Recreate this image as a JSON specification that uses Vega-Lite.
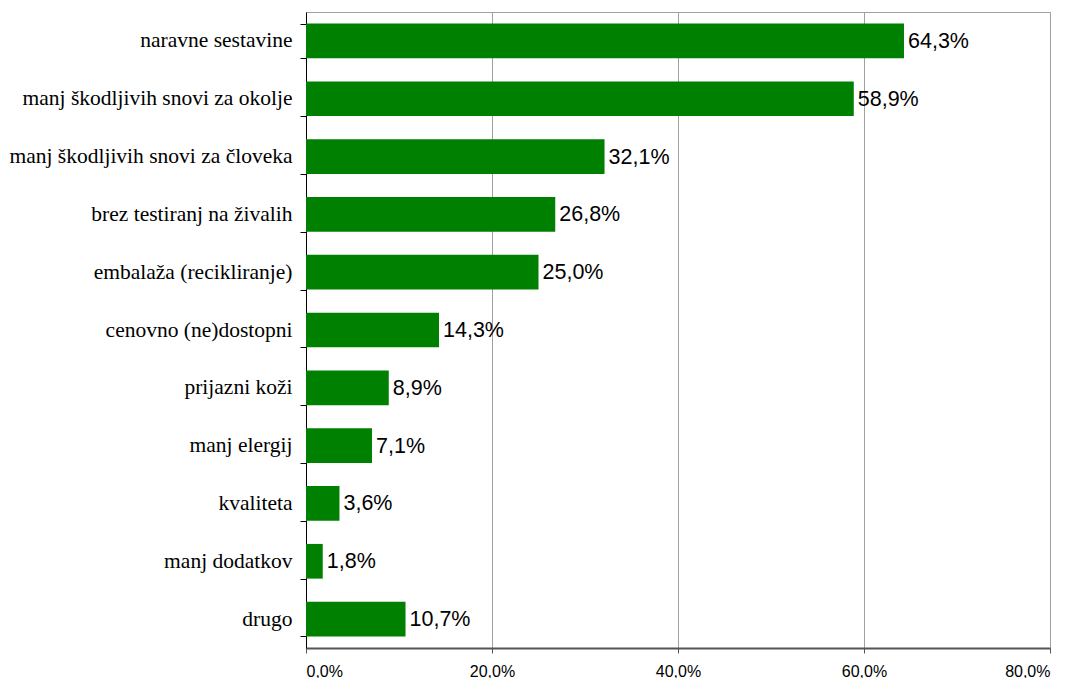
{
  "$schema": "https://vega.github.io/schema/vega-lite/v6.json",
  "width": 744,
  "height": 636,
  "autosize": {"type": "none"},
  "padding": {"left": 306, "top": 12, "right": 27, "bottom": 30},
  "background": "white",
  "config": {
    "locale": {"number": {"decimal": ",", "thousands": ".", "grouping": [3], "currency": ["", " €"]}},
    "view": {"stroke": "#a0a0a0", "strokeWidth": 1}
  },
  "data": {"values": [
    {"cat": "naravne sestavine", "v": 0.643},
    {"cat": "manj škodljivih snovi za okolje", "v": 0.589},
    {"cat": "manj škodljivih snovi za človeka", "v": 0.321},
    {"cat": "brez testiranj na živalih", "v": 0.268},
    {"cat": "embalaža (recikliranje)", "v": 0.25},
    {"cat": "cenovno (ne)dostopni", "v": 0.143},
    {"cat": "prijazni koži", "v": 0.089},
    {"cat": "manj elergij", "v": 0.071},
    {"cat": "kvaliteta", "v": 0.036},
    {"cat": "manj dodatkov", "v": 0.018},
    {"cat": "drugo", "v": 0.107}
  ]},
  "encoding": {
    "y": {"field": "cat", "type": "nominal", "sort": null,
      "scale": {"paddingInner": 0.4, "paddingOuter": 0.2},
      "axis": {"title": null, "domainColor": "#000000", "tickColor": "#000000", "tickSize": 6, "labelPadding": 8,
        "labelFont": "Liberation Serif", "labelFontSize": 21.5, "labelColor": "#000000", "grid": false,
        "tickBand": "extent", "labelLimit": 400}},
    "x": {"field": "v", "type": "quantitative",
      "scale": {"domain": [0, 0.8], "nice": false},
      "axis": {"title": null, "values": [0, 0.2, 0.4, 0.6, 0.8], "format": ".1%",
        "grid": true, "gridColor": "#a0a0a0", "domainColor": "#555555", "domainWidth": 2, "tickColor": "#555555", "tickSize": 5,
        "labelFont": "Liberation Sans", "labelFontSize": 16, "labelColor": "#000000", "labelPadding": 10}}
  },
  "layer": [
    {"mark": {"type": "bar", "color": "#008000"}},
    {"mark": {"type": "text", "align": "left", "dx": 4, "dy": 1, "font": "Liberation Sans", "fontSize": 21.5, "color": "#000000"},
      "encoding": {"text": {"field": "v", "type": "quantitative", "format": ".1%"}}}
  ]
}
